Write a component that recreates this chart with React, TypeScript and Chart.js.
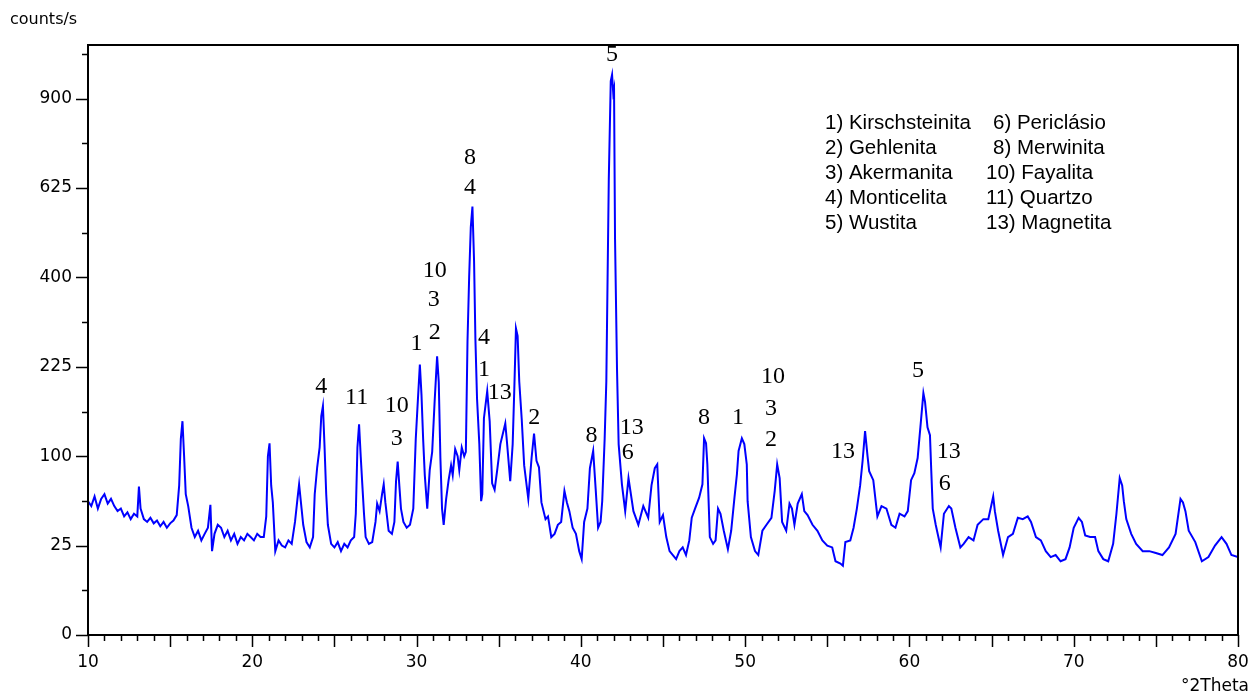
import { useEffect, useRef } from "react";
import { Chart, registerables } from "chart.js";

Chart.register(...registerables);

// 2θ positions (degrees) and intensities (counts/s)
const twoTheta = [
  10.0, 10.2, 10.4, 10.6, 10.8, 11.0, 11.2, 11.4, 11.6, 11.8, 12.0, 12.2, 12.4, 12.6, 12.8, 13.0, 13.1, 13.2, 13.4, 13.6,
  13.8, 14.0, 14.2, 14.4, 14.6, 14.8, 15.0, 15.2, 15.4, 15.55, 15.65, 15.75, 15.85, 15.95, 16.1, 16.3, 16.5, 16.7, 16.9, 17.1,
  17.3, 17.45, 17.55, 17.7, 17.9, 18.1, 18.3, 18.5, 18.7, 18.9, 19.1, 19.3, 19.5, 19.7, 19.9, 20.1, 20.3, 20.5, 20.7, 20.85,
  20.95, 21.05, 21.15, 21.25, 21.4, 21.6, 21.8, 22.0, 22.2, 22.4, 22.6, 22.75, 22.85, 23.0, 23.1, 23.3, 23.5, 23.7, 23.8, 23.95,
  24.1, 24.2, 24.3, 24.4, 24.5, 24.6, 24.8, 25.0, 25.2, 25.4, 25.6, 25.8, 26.0, 26.2, 26.3, 26.4, 26.5, 26.6, 26.7, 26.8,
  26.9, 27.1, 27.3, 27.5, 27.6, 27.75, 27.9, 28.0, 28.1, 28.3, 28.5, 28.65, 28.75, 28.85, 28.95, 29.05, 29.2, 29.4, 29.6, 29.8,
  29.95, 30.05, 30.2, 30.3, 30.4, 30.5, 30.65, 30.8, 30.95, 31.1, 31.25, 31.35, 31.45, 31.55, 31.65, 31.8, 31.95, 32.1, 32.2, 32.35,
  32.5, 32.6, 32.75, 32.9, 33.0, 33.1, 33.2, 33.3, 33.4, 33.5, 33.58, 33.68, 33.82, 33.93, 34.0, 34.1, 34.3, 34.45, 34.6, 34.75,
  34.9, 35.1, 35.4, 35.5, 35.7, 35.85, 35.95, 36.05, 36.15, 36.25, 36.4, 36.55, 36.8, 37.0, 37.15, 37.3, 37.45, 37.6, 37.85, 38.0,
  38.2, 38.4, 38.6, 38.8, 39.0, 39.15, 39.3, 39.5, 39.7, 39.9, 40.05, 40.2, 40.4, 40.55, 40.75, 40.9, 41.05, 41.2, 41.3, 41.45,
  41.55, 41.7, 41.82, 41.9, 41.97, 42.02, 42.08, 42.2, 42.3, 42.5, 42.7, 42.9, 43.2, 43.5, 43.8, 44.1, 44.3, 44.5, 44.65, 44.8,
  45.0, 45.2, 45.4, 45.6, 45.8, 46.0, 46.2, 46.4, 46.6, 46.75, 46.95, 47.2, 47.4, 47.5, 47.62, 47.7, 47.85, 48.05, 48.2, 48.35,
  48.5, 48.7, 48.95, 49.15, 49.35, 49.5, 49.6, 49.8, 49.95, 50.1, 50.15, 50.35, 50.6, 50.8, 51.05, 51.3, 51.6, 51.8, 51.95, 52.1,
  52.25, 52.5, 52.7, 52.85, 53.0, 53.2, 53.45, 53.6, 53.8, 54.1, 54.4, 54.7, 55.0, 55.3, 55.5, 55.8, 55.95, 56.1, 56.4, 56.6,
  56.8, 57.0, 57.15, 57.3, 57.45, 57.55, 57.8, 58.05, 58.3, 58.6, 58.9, 59.15, 59.4, 59.7, 59.9, 60.1, 60.3, 60.5, 60.7, 60.85,
  60.95, 61.1, 61.25, 61.33, 61.42, 61.6, 61.9, 62.1, 62.4, 62.55, 62.8, 63.1, 63.3, 63.6, 63.9, 64.15, 64.5, 64.8, 65.1, 65.2,
  65.4, 65.7, 66.0, 66.3, 66.6, 66.9, 67.2, 67.4, 67.7, 68.0, 68.3, 68.6, 68.9, 69.2, 69.5, 69.75, 70.0, 70.3, 70.5, 70.7,
  71.0, 71.3, 71.5, 71.8, 72.1, 72.4, 72.6, 72.8, 72.95, 73.05, 73.2, 73.5, 73.8, 74.2, 74.6, 75.0, 75.4, 75.8, 76.2, 76.5,
  76.65, 76.8, 77.0, 77.4, 77.8, 78.2, 78.6, 79.0, 79.3, 79.6, 80.0,
];

const counts = [
  56, 52, 60, 50, 58, 62, 54, 58, 52, 48, 50, 44, 47, 42, 46, 44, 69, 50, 42, 40,
  43, 39, 41, 37, 40, 36, 39, 41, 45, 70, 120, 143, 100, 62, 52, 36, 30, 34, 28, 32,
  36, 53, 22, 32, 38, 36, 30, 34, 28, 32, 26, 30, 28, 32, 30, 28, 32, 30, 30, 44,
  100, 115, 70, 55, 22, 28, 25, 24, 28, 26, 40, 58, 71, 50, 38, 27, 24, 30, 62, 88,
  110, 150, 164, 110, 62, 38, 26, 24, 27, 22, 26, 24, 28, 30, 46, 110, 139, 100, 70, 46,
  30, 26, 27, 40, 54, 48, 62, 71, 55, 34, 32, 40, 74, 94, 70, 50, 40, 36, 38, 50,
  120, 160, 229, 180, 120, 80, 50, 85, 105, 171, 243, 200, 98, 50, 38, 58, 75, 90, 80, 108,
  100, 85, 110, 100, 105, 270, 400, 520, 574, 437, 275, 175, 114, 56, 62, 147, 186, 143, 72, 66,
  84, 114, 140, 117, 74, 114, 190, 294, 280, 201, 146, 90, 58, 98, 127, 95, 88, 55, 42, 44,
  30, 32, 38, 40, 65, 55, 48, 36, 32, 22, 18, 40, 50, 87, 106, 67, 36, 40, 56, 121,
  201, 649, 960, 982, 920, 934, 492, 222, 114, 71, 48, 77, 48, 38, 52, 43, 70, 87, 91, 40,
  45, 30, 22, 20, 18, 22, 24, 20, 28, 43, 50, 59, 71, 121, 115, 91, 30, 26, 28, 50,
  46, 34, 23, 34, 59, 81, 106, 121, 114, 91, 56, 30, 22, 20, 34, 38, 43, 65, 91, 77,
  40, 34, 54, 50, 38, 54, 62, 48, 45, 38, 34, 28, 25, 24, 17, 16, 15, 27, 28, 36,
  50, 70, 95, 130, 100, 84, 75, 44, 52, 50, 38, 36, 46, 44, 48, 75, 82, 98, 143, 183,
  170, 135, 125, 84, 50, 38, 24, 46, 52, 50, 36, 24, 26, 30, 28, 38, 42, 42, 60, 48,
  34, 20, 30, 32, 43, 42, 44, 40, 30, 28, 22, 19, 20, 17, 18, 24, 36, 43, 40, 31,
  30, 30, 22, 18, 17, 26, 46, 77, 70, 56, 42, 32, 26, 22, 22, 21, 20, 24, 32, 58,
  55, 48, 34, 27, 17, 19, 25, 30, 26, 20, 19,
];

// axis tick labels (counts/s, square-root scale) and 2θ labels
const yTickLabels = [0, 25, 100, 225, 400, 625, 900];
const xTickLabels = [10, 20, 30, 40, 50, 60, 70, 80];

// peak annotations: text, 2θ, intensity level of the label
const peakText = ["4", "11", "10", "3", "1", "10", "3", "2", "8", "4", "4", "1", "13", "2", "5", "8", "13", "6", "8", "1", "10", "3", "2", "13", "5", "13", "6"];
const peakTheta = [24.2, 26.35, 28.8, 28.8, 30.0, 31.1, 31.05, 31.1, 33.25, 33.25, 34.1, 34.1, 35.07, 37.17, 41.9, 40.65, 43.1, 42.85, 47.5, 49.57, 51.7, 51.57, 51.57, 55.95, 60.52, 62.4, 62.15];
const peakLevel = [193, 176, 165, 121, 266, 415, 351, 286, 712, 625, 276, 221, 184, 148, 1052, 124, 134, 104, 148, 148, 208, 160, 119, 105, 219, 105, 72];

// legend of phases
const legendLeft = ["1) Kirschsteinita", "2) Gehlenita", "3) Akermanita", "4) Monticelita", "5) Wustita"];
const legendRight = ["6) Periclásio", "8) Merwinita", "10) Fayalita", "11) Quartzo", "13) Magnetita"];

const X_MIN = 10;
const X_MAX = 80;
const Y_MAX_SQRT = 33;

export default function App() {
  const ref = useRef<HTMLCanvasElement | null>(null);

  useEffect(() => {
    const canvas = ref.current;
    if (!canvas) return;

    const overlay = {
      id: "overlay",
      afterDraw(chart: any) {
        const { ctx, chartArea: a, scales } = chart;
        const xs = scales.x;
        const ys = scales.y;
        ctx.save();
        ctx.strokeStyle = "#000";
        ctx.lineWidth = 2;
        ctx.strokeRect(a.left, a.top, a.right - a.left, a.bottom - a.top);

        ctx.lineWidth = 1.5;
        ctx.beginPath();
        for (let i = X_MIN; i <= X_MAX; i++) {
          const px = Math.round(xs.getPixelForValue(i)) + 0.5;
          const len = i % 5 === 0 ? 12 : 6;
          ctx.moveTo(px, a.bottom);
          ctx.lineTo(px, a.bottom + len);
        }
        for (let k = 0; k <= 13; k++) {
          const s = k * 2.5;
          const py = Math.round(ys.getPixelForValue(s)) + 0.5;
          const len = k % 2 === 0 ? 12 : 6;
          ctx.moveTo(a.left, py);
          ctx.lineTo(a.left - len, py);
        }
        ctx.stroke();

        // peak labels
        ctx.fillStyle = "#000";
        ctx.font = '24px "Liberation Serif", "Times New Roman", serif';
        ctx.textAlign = "center";
        ctx.textBaseline = "middle";
        peakText.forEach((t, i) => {
          const px = xs.getPixelForValue(peakTheta[i]);
          const py = ys.getPixelForValue(Math.sqrt(peakLevel[i]));
          ctx.fillText(t, px, py);
        });

        // legend
        ctx.font = '20.5px "Liberation Sans", Arial, sans-serif';
        ctx.textAlign = "left";
        const rowStart = a.top + 78;
        legendLeft.forEach((t, i) => ctx.fillText(t, 825, rowStart + i * 25));
        const rightX = [993, 993, 986, 986, 986];
        legendRight.forEach((t, i) => ctx.fillText(t, rightX[i], rowStart + i * 25));

        // axis titles
        ctx.font = '16px "DejaVu Sans", sans-serif';
        ctx.textAlign = "left";
        ctx.fillText("counts/s", 10, 20);
        ctx.textAlign = "right";
        ctx.font = '17px "DejaVu Sans", sans-serif';
        ctx.fillText("°2Theta", 1249, 687);
        ctx.restore();
      },
    };

    const chart = new Chart(canvas, {
      type: "line",
      data: {
        datasets: [
          {
            data: twoTheta.map((t, i) => ({ x: t, y: Math.sqrt(counts[i]) })),
            borderColor: "#0000ff",
            borderWidth: 2,
            pointRadius: 0,
            tension: 0,
            fill: false,
          },
        ],
      },
      options: {
        responsive: false,
        animation: false,
        devicePixelRatio: 1,
        layout: { padding: { left: 0, top: 45, right: 15, bottom: 0 } },
        plugins: { legend: { display: false }, tooltip: { enabled: false } },
        scales: {
          x: {
            type: "linear",
            min: X_MIN,
            max: X_MAX,
            afterFit: (s: any) => {
              s.height = 60;
              s.paddingLeft = 0;
              s.paddingRight = 0;
            },
            afterBuildTicks: (s: any) => {
              s.ticks = xTickLabels.map((v) => ({ value: v }));
            },
            grid: { display: false, drawTicks: false },
            border: { display: false },
            ticks: {
              padding: 17,
              color: "#000",
              font: { family: '"DejaVu Sans", sans-serif', size: 17 },
              maxRotation: 0,
              autoSkip: false,
            },
          },
          y: {
            type: "linear",
            min: 0,
            max: Y_MAX_SQRT,
            afterFit: (s: any) => {
              s.width = 88;
              s.paddingTop = 0;
              s.paddingBottom = 0;
            },
            afterBuildTicks: (s: any) => {
              s.ticks = yTickLabels.map((v) => ({ value: Math.sqrt(v) }));
            },
            grid: { display: false, drawTicks: false },
            border: { display: false },
            ticks: {
              padding: 16,
              color: "#000",
              font: { family: '"DejaVu Sans", sans-serif', size: 17 },
              autoSkip: false,
              callback: (v: any) => String(Math.round(Number(v) * Number(v))),
            },
          },
        },
      },
      plugins: [overlay],
    });

    return () => chart.destroy();
  }, []);

  return (
    <div style={{ position: "fixed", left: 0, top: 0, width: 1253, height: 695, background: "#fff" }}>
      <canvas ref={ref} width={1253} height={695} />
    </div>
  );
}
